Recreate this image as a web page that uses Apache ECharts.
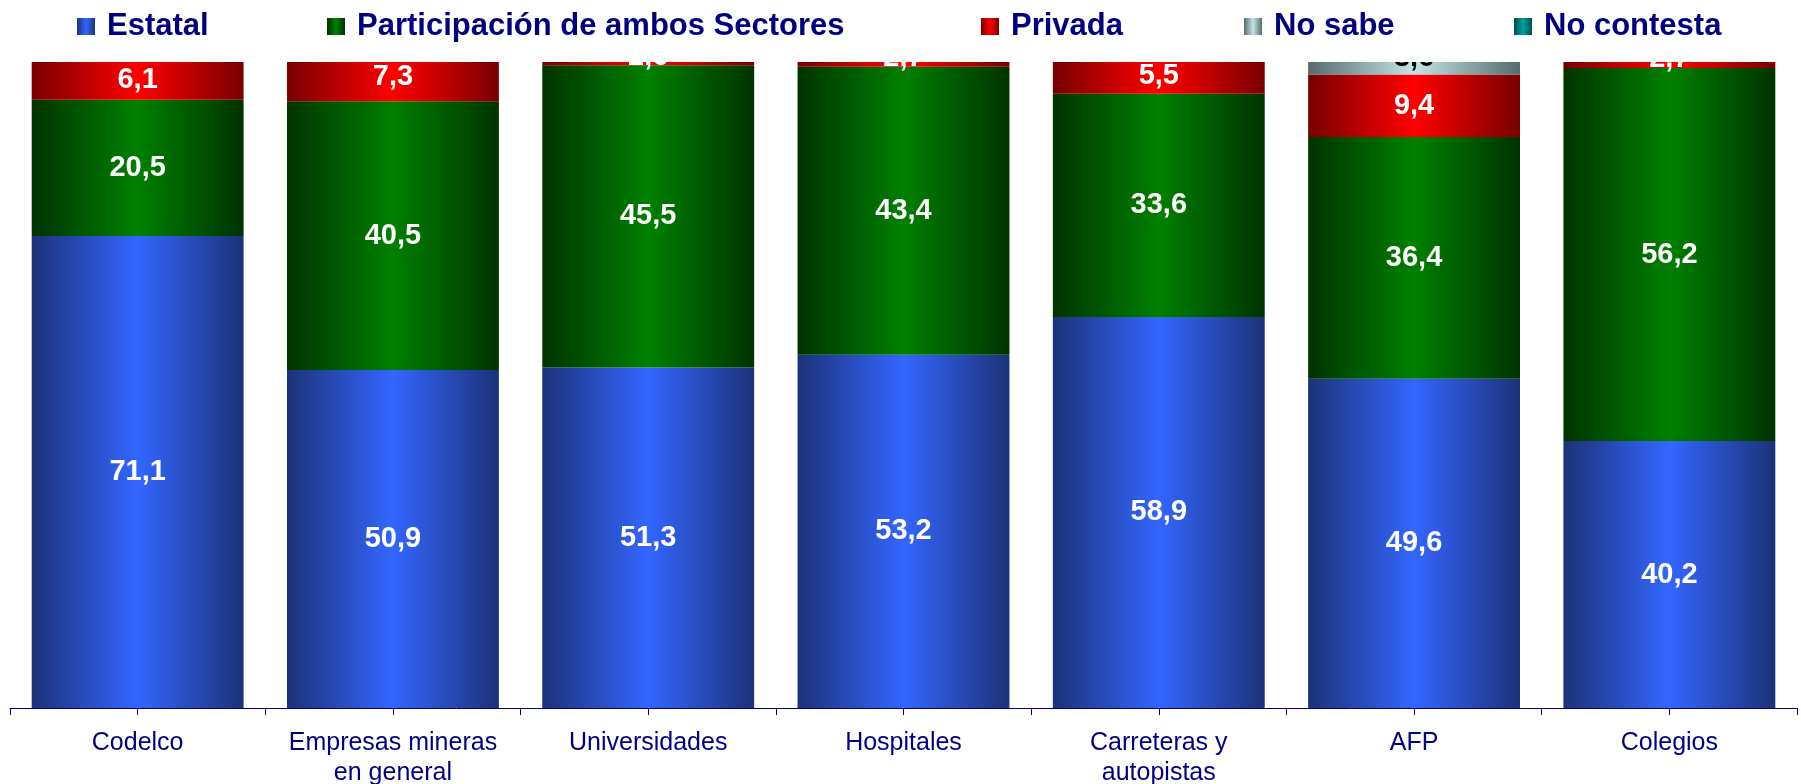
<!DOCTYPE html>
<html>
<head>
<meta charset="utf-8">
<script src="https://cdn.jsdelivr.net/npm/echarts@6/dist/echarts.min.js"></script>
<style>
    html, body { margin: 0; padding: 0; background: #fff; }
    #chart { width: 1801px; height: 784px; }
</style>
</head>
<body>
<div id="chart"></div>
<script>
    // datos
    const categories = ['Codelco', 'Empresas mineras\nen general', 'Universidades', 'Hospitales', 'Carreteras y\nautopistas', 'AFP', 'Colegios'];
    const estatal = [71.1, 50.9, 51.3, 53.2, 58.9, 49.6, 40.2];
    const ambos = [20.5, 40.5, 45.5, 43.4, 33.6, 36.4, 56.2];
    const privada = [6.1, 7.3, 2.6, 2.7, 5.5, 9.4, 2.7];
    const noSabe = [1.8, 1.0, 0.4, 0.5, 1.6, 3.6, 0.7];
    const noContesta = [0.3, 0.2, 0.2, 0.2, 0.4, 1.0, 0.2];
    const tickSlots = ['', '', '', '', '', '', '', '', '', '', '', '', '', ''];

    const navy = '#000080';
    const grad = (dark, light) => new echarts.graphic.LinearGradient(0, 0, 1, 0, [
        { offset: 0, color: dark },
        { offset: 0.5, color: light },
        { offset: 1, color: dark }
    ]);
    const fmt = p => p.value >= 2 ? p.value.toFixed(1).replace('.', ',') : '';

    const lbl = (color, dy) => ({
        show: true,
        position: 'inside',
        offset: [0, dy || 0],
        color: color,
        fontFamily: 'Liberation Sans',
        fontWeight: 'bold',
        fontSize: 29,
        formatter: fmt
    });

    const legendAt = (name, left) => ({
        data: [{ name: name, icon: 'rect' }],
        left: left,
        top: 6,
        z: 100,
        itemWidth: 18,
        itemHeight: 17,
        selectedMode: false,
        textStyle: {
            color: navy,
            fontFamily: 'Liberation Sans',
            fontWeight: 'bold',
            fontSize: 31,
            lineHeight: 29,
            padding: [0, 0, 0, 7]
        }
    });

    const chart = echarts.init(document.getElementById('chart'));
    chart.setOption({
        animation: false,
        legend: [
            legendAt('Estatal', 72),
            legendAt('Participación de ambos Sectores', 322),
            legendAt('Privada', 976),
            legendAt('No sabe', 1239),
            legendAt('No contesta', 1509)
        ],
        graphic: {
            elements: [{
                type: 'rect',
                left: 0,
                top: 0,
                z: 50,
                silent: true,
                shape: { width: 1801, height: 62 },
                style: { fill: '#fff' }
            }]
        },
        grid: { left: 10, right: 4, top: 62, bottom: 76, containLabel: false, outerBoundsMode: 'none' },
        xAxis: [
            {
                type: 'category',
                data: categories,
                axisLine: { lineStyle: { color: navy, width: 1 } },
                axisTick: { show: false },
                axisLabel: {
                    color: navy,
                    fontFamily: 'Liberation Sans',
                    fontSize: 25,
                    lineHeight: 30,
                    margin: 20,
                    interval: 0
                }
            },
            {
                type: 'category',
                data: tickSlots,
                position: 'bottom',
                axisLine: { show: false },
                axisLabel: { show: false },
                axisTick: { show: true, length: 7, lineStyle: { color: navy } }
            }
        ],
        yAxis: {
            type: 'value',
            min: 0,
            max: 97.3,
            show: false,
            splitLine: { show: false }
        },
        series: [
            {
                name: 'Estatal', type: 'bar', stack: 'a', data: estatal, clip: false,
                barCategoryGap: '17%',
                itemStyle: { color: grad('#1c3278', '#3366ff') },
                label: lbl('#fff')
            },
            {
                name: 'Participación de ambos Sectores', type: 'bar', stack: 'a', data: ambos, clip: false,
                itemStyle: { color: grad('#003300', '#008000') },
                label: lbl('#fff')
            },
            {
                name: 'Privada', type: 'bar', stack: 'a', data: privada, clip: false,
                itemStyle: { color: grad('#780000', '#ff0000') },
                label: lbl('#fff')
            },
            {
                name: 'No sabe', type: 'bar', stack: 'a', data: noSabe, clip: false,
                itemStyle: { color: grad('#566b6b', '#c4e4e6') },
                label: lbl('#000', -5)
            },
            {
                name: 'No contesta', type: 'bar', stack: 'a', data: noContesta, clip: false,
                itemStyle: { color: grad('#004d4d', '#00a0a0') },
                label: { show: false }
            }
        ]
    });
</script>
</body>
</html>
